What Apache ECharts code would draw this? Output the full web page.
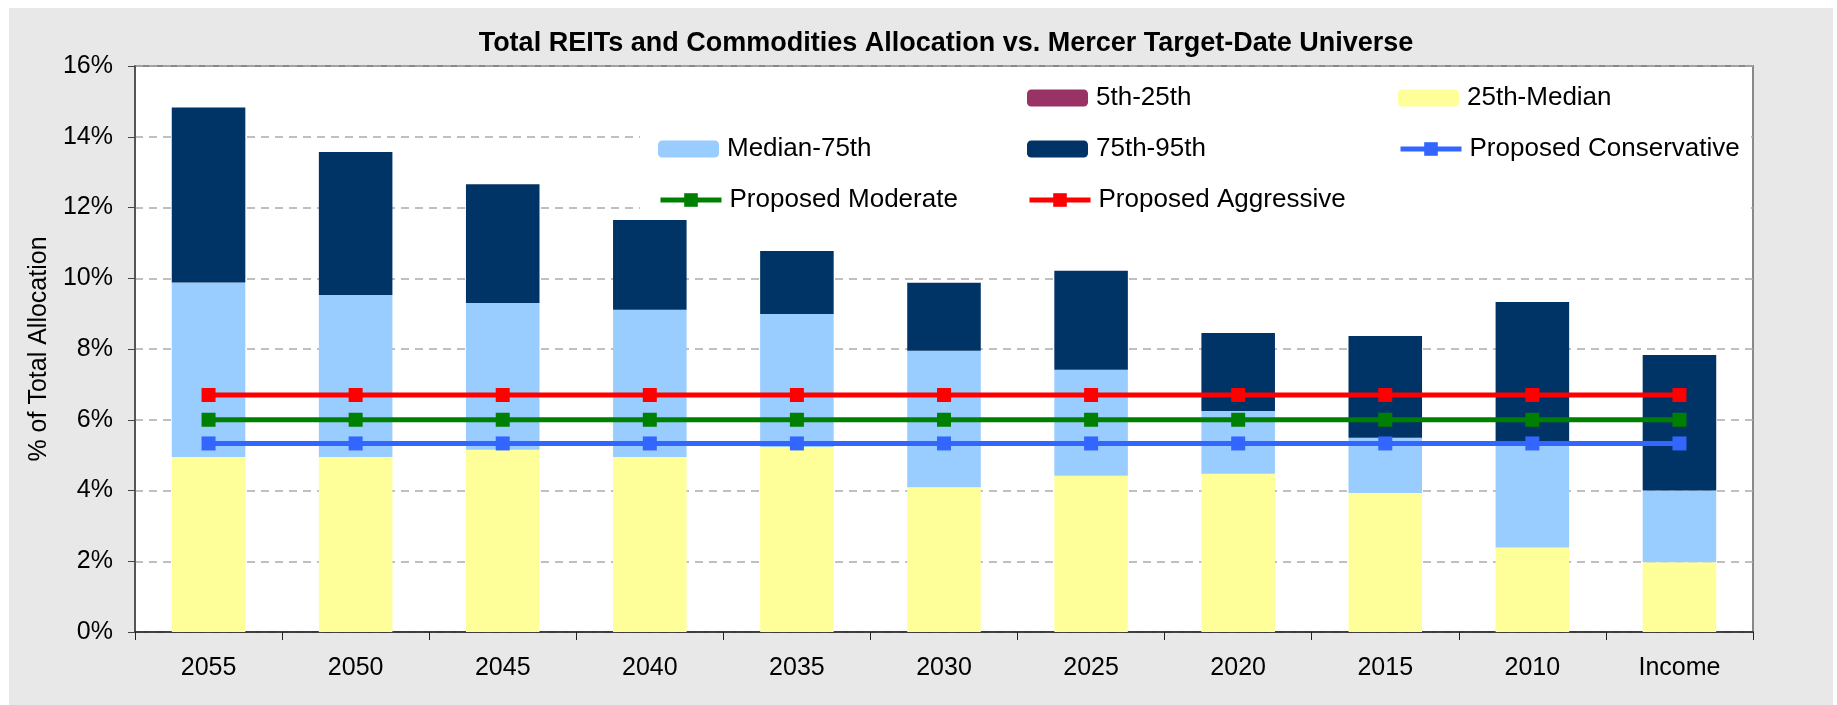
<!DOCTYPE html>
<html>
<head>
<meta charset="utf-8">
<script src="https://cdn.jsdelivr.net/npm/echarts@6/dist/echarts.min.js"></script>
<style>
  body { margin: 0; background: #fff; }
  #frame { position: absolute; left: 9px; top: 8px; width: 1824px; height: 697px; background: #e8e8e8; }
  #chart { position: absolute; left: 0; top: 0; width: 1837px; height: 705px; }
</style>
</head>
<body>
<div id="frame"></div>
<div id="chart"></div>
<script>
// categories and percentile levels (% of total allocation)
const categories = ['2055', '2050', '2045', '2040', '2035', '2030', '2025', '2020', '2015', '2010', 'Income']
const p5 = [0, 0, 0, 0, 0, 0, 0, 0, 0, 0, 0]
const p25 = [0, 0, 0, 0, 0, 0, 0, 0, 0, 0, 0]
const median = [4.95, 4.95, 5.15, 4.95, 5.23, 4.09, 4.42, 4.47, 3.93, 2.39, 1.97]
const p75 = [9.88, 9.53, 9.30, 9.11, 8.99, 7.95, 7.41, 6.25, 5.49, 5.38, 4.00]
const p95 = [14.83, 13.57, 12.66, 11.65, 10.77, 9.87, 10.21, 8.45, 8.37, 9.33, 7.83]
const conservative = [5.33, 5.33, 5.33, 5.33, 5.33, 5.33, 5.33, 5.33, 5.33, 5.33, 5.33]
const moderate = [6.0, 6.0, 6.0, 6.0, 6.0, 6.0, 6.0, 6.0, 6.0, 6.0, 6.0]
const aggressive = [6.7, 6.7, 6.7, 6.7, 6.7, 6.7, 6.7, 6.7, 6.7, 6.7, 6.7]
const yTicks = [0, 2, 4, 6, 8, 10, 12, 14, 16]

const diff = (hi, lo) => hi.map((v, i) => +(v - lo[i]).toFixed(2))

const font = "'Liberation Sans', Arial, sans-serif"
const txt = { color: '#000', fontSize: 25, fontFamily: font }

// one legend per slot so the 3-column layout can be matched
const legendSlot = (name, left, rowY) => ({
    data: [name],
    left: left,
    top: rowY - 13,
    padding: 0,
    itemWidth: 61,
    itemHeight: 17,
    lineStyle: { width: 5 },
    textStyle: Object.assign({ lineHeight: 26, padding: [0, 0, 0, 3] }, txt, { fontSize: 26 }),
    selectedMode: false
})

const barBase = { type: 'bar', stack: 'pct', barWidth: '50%', z: 2 }
const lineBase = {
    type: 'line',
    symbol: 'rect',
    symbolSize: 14,
    z: 5
}

const option = {
    backgroundColor: 'transparent',
    animation: false,
    title: {
        text: 'Total REITs and Commodities Allocation vs. Mercer Target-Date Universe',
        left: 941,
        textAlign: 'center',
        top: 25,
        textStyle: { fontSize: 27, fontWeight: 'bold', color: '#000', fontFamily: font }
    },
    legend: [
        legendSlot('5th-25th', 1027, 98),
        legendSlot('25th-Median', 1398, 98),
        legendSlot('Median-75th', 658, 149),
        legendSlot('75th-95th', 1027, 149),
        legendSlot('Proposed Conservative', 1398, 149),
        legendSlot('Proposed Moderate', 658, 200),
        legendSlot('Proposed Aggressive', 1027, 200)
    ],
    graphic: [{
        type: 'rect',
        z: 1,
        shape: { x: 640, y: 67, width: 1111, height: 150 },
        style: { fill: '#fff' }
    }],
    grid: {
        left: 135,
        right: 84,
        top: 66,
        bottom: 73,
        show: true,
        backgroundColor: '#fff',
        borderColor: '#888',
        borderWidth: 2
    },
    xAxis: {
        type: 'category',
        data: categories,
        axisLine: { lineStyle: { color: '#222', width: 1.5 } },
        axisTick: { show: true, length: 8, lineStyle: { color: '#222' } },
        axisLabel: Object.assign({ margin: 24 }, txt)
    },
    yAxis: {
        type: 'value',
        min: yTicks[0],
        max: yTicks[yTicks.length - 1],
        interval: 2,
        name: '% of Total Allocation',
        nameLocation: 'middle',
        nameGap: 74,
        nameTextStyle: txt,
        axisLine: { show: true, lineStyle: { color: '#444', width: 1.5 } },
        axisTick: { show: true, length: 7, lineStyle: { color: '#444' } },
        axisLabel: Object.assign({ margin: 22, formatter: '{value}%' }, txt),
        splitLine: { lineStyle: { color: '#aaa', type: [8, 6], width: 1.5 } }
    },
    series: [
        Object.assign({ name: '5th-25th', data: diff(p25, p5), itemStyle: { color: '#993366' } }, barBase),
        Object.assign({ name: '25th-Median', data: diff(median, p25), itemStyle: { color: '#ffff99' } }, barBase),
        Object.assign({ name: 'Median-75th', data: diff(p75, median), itemStyle: { color: '#99ccff' } }, barBase),
        Object.assign({ name: '75th-95th', data: diff(p95, p75), itemStyle: { color: '#003366' } }, barBase),
        Object.assign({ name: 'Proposed Conservative', data: conservative, itemStyle: { color: '#3366ff' }, lineStyle: { width: 5, color: '#3366ff' } }, lineBase),
        Object.assign({ name: 'Proposed Moderate', data: moderate, itemStyle: { color: '#008000' }, lineStyle: { width: 5, color: '#008000' } }, lineBase),
        Object.assign({ name: 'Proposed Aggressive', data: aggressive, itemStyle: { color: '#ff0000' }, lineStyle: { width: 5, color: '#ff0000' } }, lineBase)
    ]
}

const chart = echarts.init(document.getElementById('chart'))
chart.setOption(option)
</script>
</body>
</html>
